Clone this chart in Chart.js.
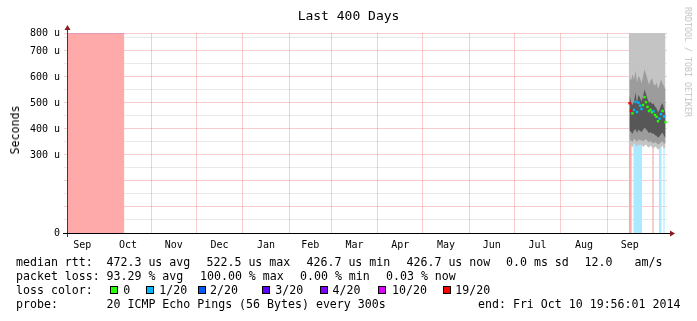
<!DOCTYPE html>
<html>
<head>
<meta charset="utf-8">
<script src="https://cdn.jsdelivr.net/npm/chart.js@4/dist/chart.umd.min.js"></script>
<style>
body { margin: 0; background: #fff; }
#wrap { position: relative; width: 697px; height: 321px; font-family: "DejaVu Sans Mono", monospace; color: #000; overflow: hidden; }
canvas { position: absolute; left: 0; top: 0; }
.t { position: absolute; white-space: pre; font-size: 11.6px; line-height: 14px; }
.box { position: absolute; top: 286px; width: 6px; height: 6px; border: 1px solid #000; }
#title { position: absolute; left: 0; top: 8px; width: 697px; text-align: center; font-size: 13px; line-height: 16px; }
#ylab { position: absolute; left: 15px; top: 130px; font-size: 11.6px; transform: translate(-50%, -50%) rotate(-90deg); white-space: pre; }
#mark { position: absolute; left: 688px; top: 62px; font-size: 8.3px; color: #c4c4c4; transform: translate(-50%, -50%) rotate(90deg); white-space: pre; }
</style>
</head>
<body>
<div id="wrap">
  <canvas id="ping" width="697" height="321"></canvas>
  <div id="title">Last 400 Days</div>
  <div id="ylab">Seconds</div>
  <div id="mark">RRDTOOL / TOBI OETIKER</div>

  <div class="t" style="left:16px;top:255px">median rtt:</div>
  <div class="t" style="left:106.5px;top:255px">472.3 us avg</div>
  <div class="t" style="left:206.5px;top:255px">522.5 us max</div>
  <div class="t" style="left:306.5px;top:255px">426.7 us min</div>
  <div class="t" style="left:406.5px;top:255px">426.7 us now</div>
  <div class="t" style="left:506px;top:255px">0.0 ms sd</div>
  <div class="t" style="left:584.5px;top:255px">12.0</div>
  <div class="t" style="left:634.5px;top:255px">am/s</div>

  <div class="t" style="left:16px;top:269px">packet loss:</div>
  <div class="t" style="left:106.5px;top:269px">93.29 % avg</div>
  <div class="t" style="left:200px;top:269px">100.00 % max</div>
  <div class="t" style="left:300px;top:269px">0.00 % min</div>
  <div class="t" style="left:386px;top:269px">0.03 % now</div>

  <div class="t" style="left:16px;top:283px">loss color:</div>
  <div class="box" style="left:109.5px;background:#26ff00"></div>
  <div class="t" style="left:123.3px;top:283px">0</div>
  <div class="box" style="left:146px;background:#00b8ff"></div>
  <div class="t" style="left:159.3px;top:283px">1/20</div>
  <div class="box" style="left:197.5px;background:#0059ff"></div>
  <div class="t" style="left:210px;top:283px">2/20</div>
  <div class="box" style="left:262px;background:#5e00ff"></div>
  <div class="t" style="left:275.3px;top:283px">3/20</div>
  <div class="box" style="left:320px;background:#7e00ff"></div>
  <div class="t" style="left:332.6px;top:283px">4/20</div>
  <div class="box" style="left:377.5px;background:#dd00ff"></div>
  <div class="t" style="left:392px;top:283px">10/20</div>
  <div class="box" style="left:442.5px;background:#ff0000"></div>
  <div class="t" style="left:455.3px;top:283px">19/20</div>

  <div class="t" style="left:16px;top:297px">probe:</div>
  <div class="t" style="left:106.5px;top:297px">20 ICMP Echo Pings (56 Bytes) every 300s</div>
  <div class="t" style="left:478px;top:297px">end: Fri Oct 10 19:56:01 2014</div>
</div>

<script>
// x axis is "days since start of window" (400 days ending Fri Oct 10 19:56:01 2014)
var monthNames = ['Sep', 'Oct', 'Nov', 'Dec', 'Jan', 'Feb', 'Mar', 'Apr', 'May', 'Jun', 'Jul', 'Aug', 'Sep'];

// y axis (microseconds)
var yMax = 769;
var yTicks = [0, 50, 100, 150, 200, 250, 300, 350, 400, 450, 500, 550, 600, 650, 700, 750, 769];
var yTickLabels = ['0', '', '', '', '', '', '300 u', '', '400 u', '', '500 u', '', '600 u', '', '700 u', '', '800 u'];

// old outage: 100% loss, no rtt (days)
var outageSpan = [0, 38.2];

// recent data, one entry per day starting at day 375
var firstDay = 375;
var median = [499, 470, 460, 473, 504, 465, 501, 490, 477, 492, 522.5, 503, 485, 469, 474, 464, 468, 454, 447, 430, 440, 457, 469, 448, 426.7];
var lossCount = [19, 19, 0, 1, 1, 1, 1, 1, 1, 0, 0, 0, 0, 0, 0, 0, 1, 0, 0, 0, 1, 1, 0, 1, 0];
var smokeMax = [905, 880, 930, 870, 915, 890, 940, 875, 900, 920, 885, 910, 935, 870, 895, 925, 880, 905, 890, 915, 870, 900, 930, 885, 910];
var smokeHigh = [600, 585, 610, 590, 625, 580, 605, 595, 575, 600, 630, 610, 590, 570, 585, 595, 575, 565, 580, 555, 570, 590, 575, 565, 550];
var smokeHigh2 = [530, 505, 492, 505, 540, 498, 532, 520, 506, 524, 552, 534, 515, 500, 505, 496, 498, 486, 480, 464, 474, 490, 500, 480, 458];
var smokeLow2 = [395, 388, 382, 394, 400, 385, 398, 392, 388, 396, 405, 400, 392, 384, 388, 382, 384, 376, 374, 366, 372, 380, 386, 374, 365];
var smokeLow = [360, 354, 350, 362, 358, 350, 360, 356, 358, 352, 358, 360, 354, 349, 354, 348, 345, 350, 346, 339, 344, 348, 354, 342, 346];
var smokeMin = [340, 335, 330, 345, 338, 332, 340, 336, 342, 330, 335, 340, 332, 328, 336, 330, 325, 333, 328, 320, 326, 330, 335, 322, 330];

var lossColor = { 0: '#26ff00', 1: '#00b8ff', 2: '#0059ff', 3: '#5e00ff', 4: '#7e00ff', 10: '#dd00ff', 19: '#ff0000' };
var lossShade = { 1: '#aae9ff', 19: '#ffaaaa' };

var startMs = Date.UTC(2014, 9, 10, 19, 56, 1) - 400 * 864e5;
function dayOf(ms) { return (ms - startMs) / 864e5; }
var monthEdges = [];
for (var i = 0; i <= 13; i++) monthEdges.push(dayOf(Date.UTC(2013, 8 + i, 1)));
var monthMids = [];
for (var i = 0; i < 13; i++) monthMids.push((monthEdges[i] + monthEdges[i + 1]) / 2);

function series(arr) {
    return arr.map(function (v, i) { return { x: firstDay + i, y: v }; });
}
// full height loss bars for one loss level
function lossBars(level) {
    var pts = [];
    lossCount.forEach(function (l, i) {
        var s = firstDay + i - 0.5;
        if (l === level) {
            pts.push({ x: s, y: yMax }, { x: s + 1, y: yMax });
        } else {
            pts.push({ x: s + 0.5, y: null });
        }
    });
    return pts;
}

var hidden = { borderColor: 'transparent', borderWidth: 0, pointRadius: 0, fill: false };
function band(arr, color, target) {
    return { data: series(arr), backgroundColor: color, borderColor: 'transparent', borderWidth: 0,
             pointRadius: 0, fill: target };
}

var majorGrid = 'rgba(230,60,60,0.26)';
var minorGrid = 'rgba(120,120,120,0.16)';
var tickFont = { family: 'DejaVu Sans Mono', size: 10 };

var config = {
    type: 'line',
    data: {
        datasets: [
            {   // 0: median, colored by loss
                data: series(median),
                showLine: false,
                pointStyle: 'rect',
                pointRadius: 1.7,
                pointBorderWidth: 0,
                pointBackgroundColor: lossCount.map(function (l) { return lossColor[l]; })
            },
            band(smokeLow2, '#575757', 2),                 // 1
            Object.assign({ data: series(smokeHigh2) }, hidden),  // 2
            band(smokeLow, '#9c9c9c', 4),                  // 3
            Object.assign({ data: series(smokeHigh) }, hidden),   // 4
            band(smokeMin, '#c4c4c4', 6),                  // 5
            Object.assign({ data: series(smokeMax) }, hidden),    // 6
            {   // 7: 1/20 loss bars
                data: lossBars(1), fill: 'origin', spanGaps: false,
                backgroundColor: lossShade[1], borderColor: 'transparent', borderWidth: 0, pointRadius: 0
            },
            {   // 8: 19/20 loss bars
                data: lossBars(19), fill: 'origin', spanGaps: false,
                backgroundColor: lossShade[19], borderColor: 'transparent', borderWidth: 0, pointRadius: 0
            },
            {   // 9: old outage
                data: [{ x: outageSpan[0], y: yMax }, { x: outageSpan[1], y: yMax }],
                fill: 'origin', backgroundColor: lossShade[19],
                borderColor: 'rgba(150,110,230,0.55)', borderWidth: 1, pointRadius: 0
            }
        ]
    },
    options: {
        responsive: false,
        animation: false,
        events: [],
        layout: { padding: { top: 33, right: 30, bottom: 68, left: 0 } },
        plugins: { legend: { display: false }, tooltip: { enabled: false }, title: { display: false } },
        scales: {
            x: {
                type: 'linear', position: 'bottom', min: 0, max: 400, z: 1,
                afterBuildTicks: function (s) { s.ticks = monthEdges.slice(1).map(function (v) { return { value: v }; }); },
                afterFit: function (s) { s.height = 0; },
                grid: { color: majorGrid, drawTicks: false },
                border: { display: false },
                ticks: { display: false }
            },
            xl: {
                type: 'linear', position: 'bottom', min: 0, max: 400,
                afterBuildTicks: function (s) { s.ticks = monthMids.map(function (v) { return { value: v }; }); },
                afterFit: function (s) { s.height = 20; },
                grid: { display: false },
                border: { display: false },
                ticks: {
                    autoSkip: false, maxRotation: 0, padding: -2, color: '#000', font: tickFont,
                    callback: function (v, i) { return monthNames[i]; }
                }
            },
            y: {
                type: 'linear', min: 0, max: yMax, z: 1,
                afterBuildTicks: function (s) { s.ticks = yTicks.map(function (v) { return { value: v }; }); },
                afterFit: function (s) { s.width = 67; },
                grid: {
                    tickLength: 3,
                    color: function (c) {
                        var v = c.tick ? c.tick.value : 0;
                        return (v % 100 === 0 || v === yMax) ? majorGrid : minorGrid;
                    }
                },
                border: { display: false },
                ticks: {
                    autoSkip: false, padding: 4, color: '#000', font: tickFont,
                    callback: function (v, i) { return yTickLabels[i]; }
                }
            }
        }
    },
    plugins: [{
        id: 'axisArrows',
        afterDraw: function (chart) {
            var ctx = chart.ctx, a = chart.chartArea;
            ctx.save();
            ctx.lineWidth = 1;
            ctx.strokeStyle = '#4a3535';
            ctx.beginPath();
            ctx.moveTo(a.left + 0.5, a.bottom + 4);
            ctx.lineTo(a.left + 0.5, a.top - 4);
            ctx.stroke();
            ctx.strokeStyle = '#000';
            ctx.beginPath();
            ctx.moveTo(a.left - 4, a.bottom + 0.5);
            ctx.lineTo(a.right + 4, a.bottom + 0.5);
            ctx.stroke();
            ctx.fillStyle = '#8b1a1a';
            ctx.beginPath();
            ctx.moveTo(a.left + 0.5, a.top - 8);
            ctx.lineTo(a.left - 2.5, a.top - 3);
            ctx.lineTo(a.left + 3.5, a.top - 3);
            ctx.closePath();
            ctx.fill();
            ctx.beginPath();
            ctx.moveTo(a.right + 8, a.bottom + 0.5);
            ctx.lineTo(a.right + 3, a.bottom - 2.5);
            ctx.lineTo(a.right + 3, a.bottom + 3.5);
            ctx.closePath();
            ctx.fill();
            ctx.restore();
        }
    }]
};

window.onload = function () {
    var ping = document.getElementById('ping').getContext('2d');
    window.pingChart = new Chart(ping, config);
};
</script>
</body>
</html>
